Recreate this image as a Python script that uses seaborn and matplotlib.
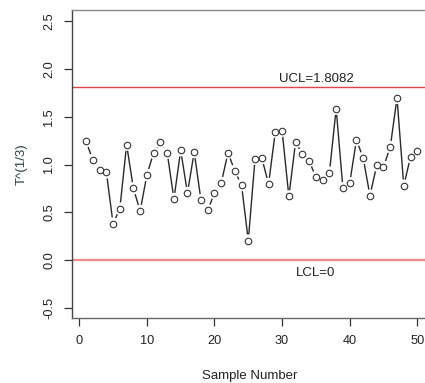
import matplotlib
matplotlib.use("Agg")
import matplotlib.pyplot as plt
import seaborn as sns
import numpy as np
import pandas as pd

sample = list(range(1, 51))
values = [1.244, 1.048, 0.943, 0.919, 0.381, 0.538, 1.209, 0.751, 0.514, 0.891,
          1.125, 1.237, 1.125, 0.639, 1.150, 0.702, 1.132, 0.626, 0.521, 0.702,
          0.807, 1.125, 0.933, 0.786, 0.203, 1.062, 1.069, 0.797, 1.345, 1.355,
          0.667, 1.237, 1.108, 1.040, 0.867, 0.839, 0.915, 1.586, 0.751, 0.804,
          1.258, 1.069, 0.674, 0.992, 0.975, 1.184, 1.698, 0.779, 1.080, 1.143]
ucl = 1.8082
lcl = 0.0
ucl_label = "UCL=1.8082"
lcl_label = "LCL=0"
xticks = [0, 10, 20, 30, 40, 50]
yticks = [-0.5, 0.0, 0.5, 1.0, 1.5, 2.0, 2.5]

sns.set_style("white")
plt.rcParams['font.family'] = ['Liberation Sans', 'DejaVu Sans']

df = pd.DataFrame({"Sample Number": sample, "T": values})

fig = plt.figure(figsize=(4.25, 3.83), dpi=100)
ax = fig.add_axes([72/425, 65/383, 1.0057 - 72/425, (318-10)/383])

sns.lineplot(data=df, x="Sample Number", y="T", color="#2a2a2a", lw=1.0, ax=ax, zorder=2)
sns.scatterplot(data=df, x="Sample Number", y="T", s=80, color="white", edgecolor="none",
                linewidth=0, ax=ax, zorder=3)
sns.scatterplot(data=df, x="Sample Number", y="T", s=22, facecolor="white",
                edgecolor="#333333", linewidth=0.8, ax=ax, zorder=4)

ax.axhline(ucl, color="#e04646", lw=1.0, zorder=1)
ax.axhline(lcl, color="#f48a8a", lw=1.6, zorder=1)
ax.text(35.0, ucl + 0.03, ucl_label, ha="center", va="bottom", fontsize=9.5, color="#222222")
ax.text(35.0, lcl - 0.07, lcl_label, ha="center", va="top", fontsize=9.5, color="#222222")

ax.set_xlim(-1.08, 51.5)
ax.set_ylim(-0.608, 2.62)
ax.set_xticks(xticks)
ax.set_yticks(yticks)
ax.set_yticklabels([f"{v:.1f}" for v in yticks], rotation=90, va="center")
ax.tick_params(axis="both", direction="out", length=5.5, width=0.9, color="#333333",
               labelsize=9.2, labelcolor="#222222", pad=6.5, left=True, bottom=True)
ax.set_xlabel("Sample Number", fontsize=9.5, color="#222222", labelpad=17)
ax.set_ylabel("T^(1/3)", fontsize=9.5, color="#2a3f3f", labelpad=11)

for side in ["left", "bottom", "top"]:
    ax.spines[side].set_visible(True)
    ax.spines[side].set_linewidth(1.0)
ax.spines["left"].set_color("#444444")
ax.spines["bottom"].set_color("#666666")
ax.spines["top"].set_color("#888888")
ax.spines["right"].set_visible(False)

fig.savefig("out.png", dpi=100, facecolor="white")
